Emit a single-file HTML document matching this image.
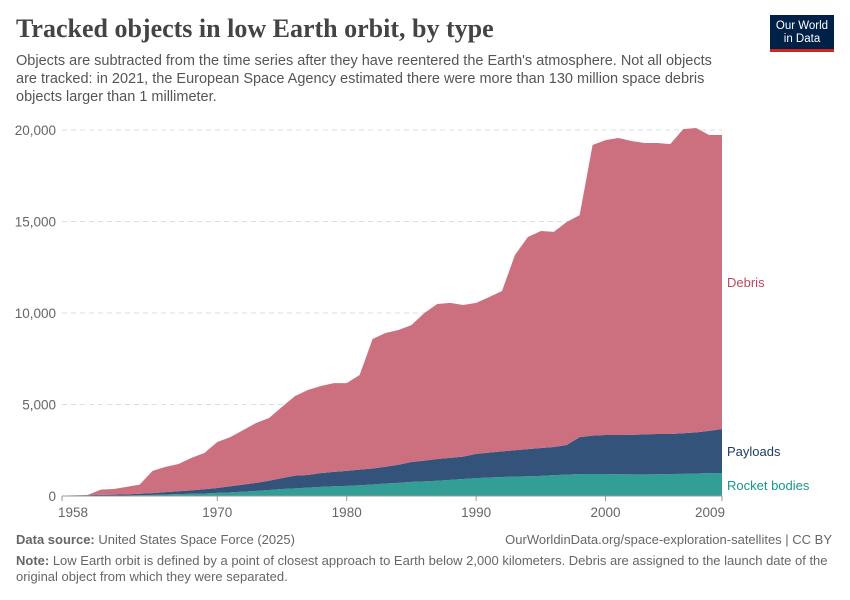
<!DOCTYPE html>
<html><head><meta charset="utf-8"><style>
body{margin:0;background:#fff;font-family:"Liberation Sans",sans-serif;}
.t{position:absolute;white-space:nowrap;}
</style></head><body>
<div style="position:relative;width:850px;height:600px;overflow:hidden">
<div class="t" style="left:16px;top:14px;font-family:'Liberation Serif',serif;font-size:26px;font-weight:bold;color:#444">Tracked objects in low Earth orbit, by type</div>
<div class="t" style="left:16px;top:52px;font-size:14.5px;line-height:18px;color:#555;white-space:normal;width:718px">Objects are subtracted from the time series after they have reentered the Earth's atmosphere. Not all objects are tracked: in 2021, the European Space Agency estimated there were more than 130 million space debris objects larger than 1 millimeter.</div>
<div style="position:absolute;left:770px;top:15px;width:64px;height:37px;background:#002147;border-bottom:3px solid #ce261e;color:#fff;font-size:11.5px;line-height:13px;text-align:center;padding-top:5px;box-sizing:border-box">Our World<br>in Data</div>
<svg id="chart" width="850" height="600" style="position:absolute;left:0;top:0"></svg>
<div class="t" style="left:16px;top:532px;font-size:13px;color:#666"><b>Data source:</b> United States Space Force (2025)</div>
<div class="t" style="right:18px;top:532px;font-size:13px;color:#666">OurWorldinData.org/space-exploration-satellites | CC BY</div>
<div class="t" style="left:16px;top:553px;font-size:13px;line-height:16px;color:#666;white-space:normal;width:815px"><b>Note:</b> Low Earth orbit is defined by a point of closest approach to Earth below 2,000 kilometers. Debris are assigned to the launch date of the original object from which they were separated.</div>
</div>
<script>
const years=[];for(let y=1958;y<=2009;y++)years.push(y);
const rocketBodies=[5,10,15,20,25,30,40,60,80,100,120,140,170,200,240,280,330,380,420,460,500,530,550,590,630,680,720,770,800,830,880,930,980,1010,1040,1060,1080,1100,1140,1170,1200,1200,1200,1190,1180,1180,1190,1200,1210,1230,1250,1260];
const payloads=[10,20,30,40,50,60,80,100,130,160,190,230,270,330,380,440,500,600,690,690,750,790,820,850,870,920,990,1090,1130,1190,1200,1220,1320,1360,1400,1440,1480,1520,1540,1620,2020,2100,2130,2140,2160,2190,2200,2190,2220,2250,2310,2400];
const debris=[5,10,15,290,305,410,500,1210,1380,1490,1770,1980,2510,2690,2980,3270,3430,3890,4350,4640,4760,4850,4800,5170,7080,7310,7360,7480,8070,8470,8470,8290,8250,8500,8760,10670,11590,11860,11750,12180,12130,15880,16120,16230,16060,15920,15900,15840,16620,16630,16170,16070];
const yTicks=[0,5000,10000,15000,20000];
const xTicks=[1958,1970,1980,1990,2000,2009];
const NS='http://www.w3.org/2000/svg';const svg=document.getElementById('chart');
const X=y=>62+(y-1958)*(660/51);const Y=v=>496-v*366/20000;
function mk(t,a){const e=document.createElementNS(NS,t);for(const k in a)e.setAttribute(k,a[k]);svg.appendChild(e);return e;}
yTicks.forEach(v=>{
 if(v>0){const g=mk('line',{x1:62,x2:722,y1:Y(v),y2:Y(v),stroke:'#ddd','stroke-dasharray':'5,4'});
 
 }
 const t=mk('text',{x:56,y:Y(v)+5,'text-anchor':'end','font-size':'13.5','fill':'#666','font-family':'Liberation Sans'});t.textContent=v.toLocaleString('en-US');
 
 
});
const series=[[rocketBodies,'#339e96','rocket-bodies-area'],[payloads,'#33537a','payloads-area'],[debris,'#cc7080','debris-area']];
let base=years.map(()=>0);
series.forEach(([vals,col,name])=>{
 const top=base.map((b,i)=>b+vals[i]);
 let d='M'+years.map((y,i)=>X(y)+','+Y(top[i])).join('L');
 for(let i=years.length-1;i>=0;i--)d+='L'+X(years[i])+','+Y(base[i]);
 const p=mk('path',{d:d+'Z',fill:col});
 
 
 base=top;
});
const ax=mk('line',{x1:62,x2:722,y1:496,y2:496,stroke:'#999'});


xTicks.forEach(y=>{
 const l=mk('line',{x1:X(y),x2:X(y),y1:496,y2:501,stroke:'#999'});
 
 
 const t=mk('text',{x:X(y),y:517,'text-anchor':y==1958?'start':(y==2009?'end':'middle'),'font-size':'13.5','fill':'#666','font-family':'Liberation Sans'});
 if(y==1958)t.setAttribute('x',X(y)-4);
 if(y==2009)t.setAttribute('x',X(y)+3);
 t.textContent=y;
 
 
});
[['Debris',287,'#c0475a','label-debris'],['Payloads',456,'#1d3d63','label-payloads'],['Rocket bodies',490,'#18978c','label-rocket-bodies']].forEach(([s,y,c,n])=>{
 const t=mk('text',{x:727,y:y,'font-size':'13','fill':c,'font-family':'Liberation Sans'});t.textContent=s;
 
 
});
</script>
</body></html>
